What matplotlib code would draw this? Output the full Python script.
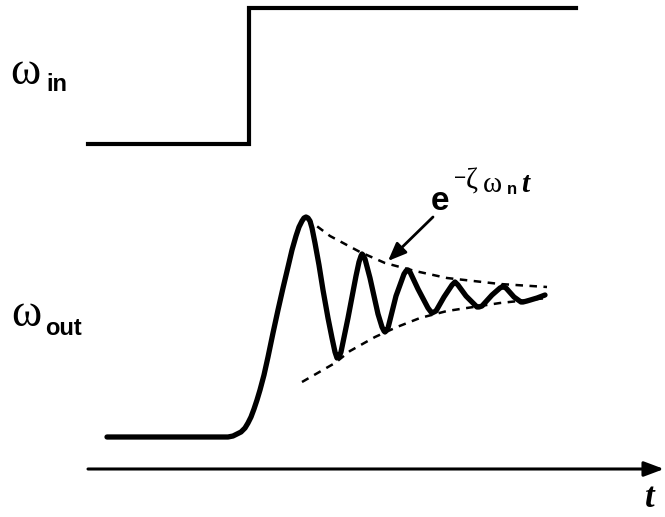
import matplotlib
matplotlib.use("Agg")
from matplotlib import pyplot as plt

# step input (pixel coordinates, y grows downward)
step_x = [88, 249, 249, 576]
step_y = [144, 144, 8, 8]

# output response, read point by point
resp_x = [107, 220, 228, 233, 237, 241, 245, 248, 251, 254, 257, 260, 264, 268, 273, 278, 283,
          288, 292, 296, 299, 302, 304, 306, 308, 310, 312, 315, 319, 323, 328, 332, 335, 337, 339,
          341, 348, 356, 359, 361, 362, 363, 365, 370, 378, 382, 384, 385, 386, 388, 396, 404, 406,
          407, 408, 410, 418, 428, 431, 432, 434, 436, 444, 452, 454, 455, 456, 458, 466, 475, 477,
          478, 479, 482, 492, 500, 502, 503, 504, 506, 514, 521, 523, 527, 537, 545]
resp_y = [437, 437, 437, 436, 434, 432, 428, 423, 417, 409, 400, 390, 375, 357, 333, 310, 288,
          267, 250, 236, 227, 221, 218, 217, 218, 221, 228, 243, 265, 290, 318, 338, 352, 358, 357,
          352, 318, 276, 262, 256, 254, 255, 259, 278, 314, 327, 331, 332, 331, 328, 296, 274, 271,
          270, 270, 272, 289, 308, 312, 313, 312, 311, 297, 285, 283, 282, 283, 285, 296, 305, 307,
          307, 307, 306, 295, 288, 287, 286, 287, 288, 297, 302, 302, 301, 298, 295]

# decay envelopes (dashed)
upper_x = [306, 330, 360, 385, 415, 447, 500, 547]
upper_y = [218, 236, 252, 263, 271, 278, 284, 287]
lower_x = [302, 335, 350, 375, 397, 420, 447, 500, 547]
lower_y = [382, 363, 351, 337, 327, 318, 311, 303, 298]

fig = plt.figure(figsize=(6.65, 5.17), dpi=100)
ax = fig.add_axes([0, 0, 1, 1])
ax.set_xlim(0, 665)
ax.set_ylim(517, 0)
ax.set_axis_off()

ax.plot(step_x, step_y, color='black', lw=3.0, solid_joinstyle='miter')
ax.plot(resp_x, resp_y, color='black', lw=3.8, solid_joinstyle='round', solid_capstyle='round')
ax.plot(upper_x, upper_y, color='black', lw=1.8, dashes=(3, 2.6))
ax.plot(lower_x, lower_y, color='black', lw=1.8, dashes=(3, 2.6))

# time axis
ax.annotate('', xy=(664, 469), xytext=(88, 469),
            arrowprops=dict(arrowstyle='-|>,head_length=1.2,head_width=0.45',
                            color='black', lw=2.2, shrinkA=0, shrinkB=0))
ax.text(650, 507, 't', fontsize=25, fontweight='bold', style='italic',
        family='Liberation Serif', ha='center', va='baseline')

# pointer to the envelope
ax.annotate('', xy=(388, 261), xytext=(433, 217),
            arrowprops=dict(arrowstyle='-|>,head_length=1.1,head_width=0.45',
                            color='black', lw=2.0, shrinkA=0, shrinkB=0))

# labels
serif = 'Liberation Serif'
sans = 'Liberation Sans'
ax.text(10, 84, 'ω', fontsize=33, family=serif, ha='left', va='baseline')
ax.text(46, 91, 'in', fontsize=17, family=sans, fontweight='bold', ha='left', va='baseline')
ax.text(11, 326, 'ω', fontsize=33, family=serif, ha='left', va='baseline')
ax.text(45, 335, 'out', fontsize=17, family=sans, fontweight='bold', ha='left', va='baseline')

ax.text(431, 210, 'e', fontsize=24, family=sans, fontweight='bold', ha='left', va='baseline')
ax.text(454, 184, '−', fontsize=15, family=sans, ha='left', va='baseline')
ax.text(466, 189, 'ζ', fontsize=21, family=serif, ha='left', va='baseline')
ax.text(483, 192, 'ω', fontsize=21, family=serif, ha='left', va='baseline')
ax.text(507, 194, 'n', fontsize=12, family=sans, fontweight='bold', ha='left', va='baseline')
ax.text(521, 192, 't', fontsize=21, family=serif, fontweight='bold', style='italic',
        ha='left', va='baseline')

fig.savefig('out.png', dpi=100)
